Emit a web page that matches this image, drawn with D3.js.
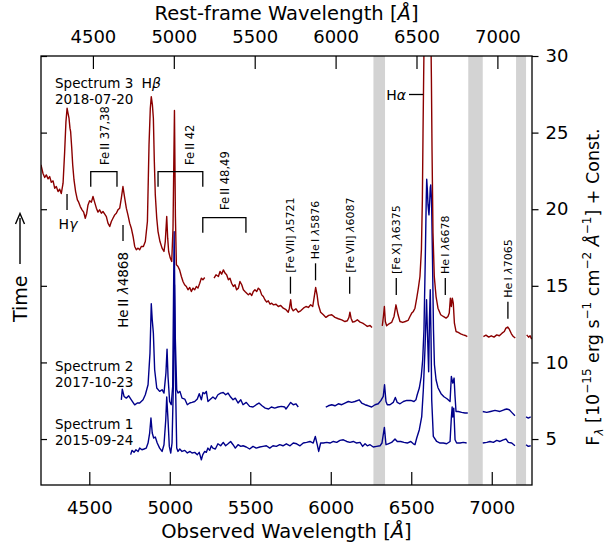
<!DOCTYPE html>
<html>
<head>
<meta charset="utf-8">
<script src="https://cdn.jsdelivr.net/npm/d3@7"></script>
<style>
  body { margin: 0; background: #fff; }
  svg text { font-family: "DejaVu Sans", sans-serif; fill: #000; }
</style>
</head>
<body>
<svg id="chart" width="616" height="546"></svg>
<script>
// ---- data -------------------------------------------------------------
const redshift = 0.005;
const obsTicks = [4500, 5000, 5500, 6000, 6500, 7000];
const restTicks = [4500, 5000, 5500, 6000, 6500, 7000];
const fluxTicks = [5, 10, 15, 20, 25, 30];
const telluricLo = [6265, 6854, 7151];
const telluricHi = [6337, 6944, 7213];

// Spectrum 3 (2018-07-20), null marks a masked stretch
const spec3Wave = [4200,4212,4223,4233,4244,4254,4264,4275,4285,4295,4306,4316,4326,4337,4347,4355,4362,4368,4374,4380,4384,4391,4397,4405,4415,4426,4434,4444,4455,4465,4475,4484,4492,4502,4513,4523,4533,4544,4554,4564,4575,4585,4596,4606,4616,4627,4637,4647,4658,4668,4678,4689,4699,4709,4720,4730,4740,4751,4761,4772,4782,4792,4803,4813,4823,4836,4848,4861,4871,4879,4885,4892,4898,4904,4910,4919,4927,4939,4952,4964,4972,4981,4987,4993,5003,5012,5020,5029,5035,5041,5051,5061,5072,5082,5092,5103,5113,5124,5134,5144,5155,5165,5175,5186,5196,5206,5217,5245,
  5275,5287,5302,5312,5322,5333,5343,5353,5364,5374,5384,5395,5405,5415,5426,5436,5447,5457,5467,5478,5488,5498,5509,5519,5529,5540,5550,5560,5571,5581,5591,5602,5612,5623,5633,5643,5660,5674,5689,5705,5722,5736,5743,5751,5757,5767,5784,5798,5813,5830,5846,5861,5875,5888,5896,5906,5915,5923,5937,5954,5970,5987,6006,6026,6047,6068,6088,6103,6113,6119,6126,6136,6150,6165,6182,6198,6213,6227,6244,6256,6290,
  6320,6327,6333,6339,6347,6362,6378,6393,6405,6418,6430,6447,6463,6480,6492,6503,6513,6523,6534,6544,6554,6563,6569,6573,6577,6601,6625,6629,6635,6643,6654,6666,6683,6699,6716,6728,6736,6743,6749,6755,6761,6768,6778,6792,6807,6823,6840,6848,6900,
  6948,6964,6981,6997,7014,7031,7047,7064,7078,7088,7099,7109,7122,7134,7146,7180,
  7217,7229,7238,7248];
const spec3Flux = [22.9,22.35,22.07,22.24,21.98,22.13,21.76,21.85,21.37,21.48,21.15,21.31,21.02,21.70,23.76,25.72,26.59,26.26,25.94,25.29,25.07,23.98,22.89,21.91,21.15,20.61,20.46,20.17,19.96,19.81,19.41,19.74,20.28,20.55,20.46,20.83,20.46,20.07,19.81,19.96,19.74,19.85,19.68,19.52,19.09,18.87,19.20,19.41,19.63,19.74,19.96,20.07,20.72,21.48,20.72,20.07,19.63,19.09,18.76,18.22,17.57,17.35,17.46,17.35,17.57,17.57,17.89,19.20,24.20,26.59,27.35,26.81,25.94,23.11,20.94,19.41,18.54,17.89,17.46,17.24,17.89,19.52,18.11,17.24,16.81,16.59,18.76,26.45,19.50,16.37,16.26,16.04,15.61,15.28,15.07,14.96,14.74,14.89,14.63,14.85,14.74,14.96,14.85,15.17,15.50,15.39,15.54,null,
  15.50,15.72,15.61,15.94,15.76,16.04,15.83,15.72,15.39,15.50,15.17,14.96,15.07,14.74,14.85,15.28,15.07,14.74,14.63,14.52,14.41,14.52,14.37,14.63,14.74,14.63,14.85,14.74,14.41,14.30,14.09,13.94,14.02,13.80,13.87,13.76,13.80,13.65,13.72,13.54,13.44,13.28,13.54,14.09,13.54,13.37,13.50,13.28,13.37,13.54,13.65,13.59,13.76,13.65,14.20,14.89,14.41,13.76,13.28,13.11,12.94,13.07,13.11,12.94,12.85,12.78,12.67,12.72,12.94,13.28,12.89,12.63,12.67,12.78,12.63,12.57,12.46,12.35,12.41,12.28,null,
  12.39,13.00,13.65,12.67,12.39,12.52,12.61,13.00,13.76,13.11,12.67,12.61,12.67,12.74,13.00,13.22,13.33,13.54,14.20,14.85,15.61,17.35,20.61,24.96,28.65,50.0,28.65,23.87,18.44,15.61,14.30,13.54,13.11,13.00,12.89,13.00,13.22,14.20,13.65,14.20,13.87,12.56,12.02,11.96,11.87,11.80,11.74,11.69,null,
  11.69,11.78,11.65,11.74,11.65,11.80,11.74,11.91,12.02,12.24,12.31,12.17,11.87,11.69,11.59,null,
  11.80,11.65,11.74,11.52];

// Spectrum 2 (2017-10-23)
const spec2Wave = [4699,4705,4716,4730,4745,4761,4782,4798,4813,4834,4848,4865,4877,4885,4891,4898,4906,4919,4937,4952,4964,4976,4983,4989,4999,5009,5018,5027,5034,5043,5051,5063,5076,5093,5109,5124,5138,5155,5171,5183,5196,5206,5217,5227,5237,5254,5268,5283,5299,5316,5332,5347,5362,5378,5393,5407,5424,5441,5455,5475,5496,5517,5537,5554,5573,5593,5614,5631,5652,5672,5693,5714,5722,5736,5751,5767,5784,5798,5880,
  5969,5985,6006,6026,6047,6068,6088,6109,6130,6150,6177,6192,6213,6233,6254,6275,6295,6312,6326,6334,6343,6351,6368,6388,6401,6413,6430,6451,6472,6497,6517,6529,6537,6550,6562,6571,6579,6587,6593,6596,6600,6604,6610,6615,6618,6621,6626,6632,6638,6644,6654,6666,6685,6703,6722,6741,6749,6758,6766,6772,6778,6792,6813,6834,6851,6900,
  6944,6969,6993,7020,7051,7076,7093,7109,7124,7144,7180,
  7213,7227,7242];
const spec2Flux = [7.56,8.26,7.78,7.67,7.82,7.56,7.23,7.35,7.35,7.56,7.89,8.54,10.61,13.83,12.78,11.91,9.52,8.33,8.11,8.22,8.00,9.31,10.87,9.08,7.45,7.24,8.43,18.54,11.69,8.22,8.00,8.11,7.67,7.61,7.24,7.35,7.39,7.45,7.61,7.96,7.56,8.04,7.96,8.11,7.45,7.61,7.74,7.61,7.89,8.00,8.04,7.89,8.00,7.74,7.56,7.67,7.35,7.56,7.24,7.39,7.13,7.09,7.24,7.35,7.17,7.02,6.96,7.09,7.02,7.09,7.13,7.09,6.96,7.17,7.39,7.24,7.30,7.09,null,
  7.09,7.17,7.24,7.17,7.30,7.24,7.35,7.45,7.39,7.45,7.56,7.35,7.24,7.17,7.09,7.24,7.30,7.52,7.78,8.54,7.45,7.24,7.24,7.39,7.71,7.39,7.30,7.45,7.52,7.52,7.45,7.56,7.89,8.33,9.08,10.17,12.13,16.70,20.61,21.96,21.26,20.28,19.63,20.61,21.39,21.59,20.61,16.70,12.13,9.85,8.87,8.35,7.96,7.76,7.63,7.45,9.08,8.65,8.98,7.78,6.80,6.80,6.74,6.70,6.70,null,
  6.80,6.74,6.80,6.87,6.80,6.91,6.96,6.91,6.74,6.52,null,
  6.44,6.37,6.44];

// Spectrum 1 (2015-09-24)
const spec1Wave = [4757,4765,4778,4790,4803,4813,4827,4840,4854,4865,4875,4883,4891,4900,4910,4922,4937,4952,4964,4975,4981,4989,4997,5006,5014,5022,5029,5036,5043,5051,5062,5076,5093,5109,5126,5138,5155,5171,5183,5196,5205,5217,5227,5237,5248,5258,5268,5283,5299,5316,5332,5347,5362,5378,5393,5407,5424,5441,5455,5475,5496,5517,5537,5559,5579,5600,5621,5641,5662,5683,5703,5724,5747,5767,5788,5809,5829,5850,5871,5891,5904,5916,5925,5937,5954,5975,5995,6016,6037,6057,6078,6099,6119,6140,6161,6182,6198,6213,6227,6244,6264,6285,6306,6318,6333,6343,6357,6378,6399,6413,6434,6455,6475,6497,6513,6523,6534,6550,6565,6575,6585,6595,6600,6608,6613,6618,6623,6627,6637,6658,6679,6699,6720,6741,6749,6754,6758,6764,6772,6782,6803,6823,6844,6900,
  6944,6969,6989,7010,7031,7051,7072,7089,7103,7124,7144,7180,
  7213,7227,7242];
const spec1Flux = [3.98,4.26,4.13,4.30,4.19,4.41,4.30,4.35,4.41,4.74,5.39,6.37,5.39,5.07,5.13,4.74,4.41,4.19,4.63,6.26,7.74,6.26,4.52,4.09,4.74,8.43,15.07,8.43,4.41,4.19,4.35,4.19,4.26,4.09,4.19,4.09,4.13,3.98,4.13,3.65,3.98,4.19,4.13,4.41,4.26,4.56,4.41,4.35,4.69,4.56,4.78,4.56,4.69,4.84,4.63,4.41,4.63,4.52,4.56,4.48,4.35,4.52,4.41,4.48,4.52,4.56,4.41,4.56,4.52,4.63,4.56,4.69,4.56,4.74,4.69,4.56,4.74,4.78,4.84,4.74,5.17,4.63,4.19,4.74,4.74,4.78,4.74,4.84,4.78,4.91,4.95,4.84,4.78,4.84,4.74,4.78,4.52,4.69,4.56,4.63,4.48,4.52,4.56,4.74,5.76,4.63,4.69,4.78,5.00,4.84,4.84,4.78,4.74,4.84,4.69,4.63,5.07,5.61,6.47,8.22,10.83,14.09,12.13,9.39,12.78,14.74,11.48,7.56,5.17,4.84,4.74,4.74,4.69,4.84,6.39,7.09,6.44,7.02,4.95,4.74,4.74,4.78,4.74,null,
  4.74,4.78,4.84,4.78,4.91,4.84,4.95,5.00,4.78,4.74,4.56,null,
  4.63,4.52,4.56];

// line identifications
const markerNames = ["[Fe\u2009VII] ", "He\u2009I ", "[Fe\u2009VII] ", "[Fe\u2009X] ", "He\u2009I ", "He\u2009I "];
const markerLambda = ["5721", "5876", "6087", "6375", "6678", "7065"];
const markerRest = [5721, 5876, 6087, 6375, 6678, 7065];
const feNames = ["Fe\u2009II 37,38", "Fe\u2009II 42", "Fe\u2009II 48,49"];
const feLo = [4509, 4927, 5205];
const feHi = [4672, 5205, 5473];

// ---- layout -----------------------------------------------------------
const svg = d3.select("#chart");
const L = 41, R = 532, T = 56, B = 485;

const x = d3.scaleLinear().domain([4200, 7250]).range([L, R]);
const xRest = d3.scaleLinear().domain([4200 / (1 + redshift), 7250 / (1 + redshift)]).range([L, R]);
const y = d3.scaleLinear().domain([2, 30]).range([B, T]);

svg.append("defs").append("clipPath").attr("id", "plotclip")
  .append("rect").attr("x", L).attr("y", T).attr("width", R - L).attr("height", B - T);

// telluric bands
svg.append("g").selectAll("rect").data(d3.range(telluricLo.length)).join("rect")
  .attr("x", i => x(telluricLo[i]))
  .attr("width", i => x(telluricHi[i]) - x(telluricLo[i]))
  .attr("y", T).attr("height", B - T)
  .attr("fill", "#d3d3d3");

// spectra
const series = [
  {wave: spec1Wave, flux: spec1Flux, color: "#00008b"},
  {wave: spec2Wave, flux: spec2Flux, color: "#00008b"},
  {wave: spec3Wave, flux: spec3Flux, color: "#8b0000"}
];
const line = d3.line()
  .defined(d => d[1] !== null)
  .x(d => x(d[0])).y(d => y(d[1]));
const plot = svg.append("g").attr("clip-path", "url(#plotclip)");
series.forEach(s => {
  plot.append("path")
    .datum(s.wave.map((w, i) => [w, s.flux[i]]))
    .attr("d", line)
    .attr("fill", "none")
    .attr("stroke", s.color)
    .attr("stroke-width", 1.4)
    .attr("stroke-linejoin", "round");
});

// axes
function styleAxis(g, size) {
  g.select(".domain").remove();
  g.selectAll(".tick line").attr("stroke", "#000").attr("stroke-width", 1.2);
  g.selectAll(".tick text").attr("font-family", "DejaVu Sans").attr("font-size", size).attr("fill", "#000");
  g.attr("font-family", null).attr("font-size", null);
}
svg.append("g").attr("transform", `translate(0,${B})`)
  .call(d3.axisBottom(x).tickValues(obsTicks).tickSize(-13).tickPadding(16).tickFormat(d3.format("d")))
  .call(g => styleAxis(g, 18));
svg.append("g").attr("transform", `translate(0,${T})`)
  .call(d3.axisTop(xRest).tickValues(restTicks).tickSize(-13).tickPadding(13).tickFormat(d3.format("d")))
  .call(g => styleAxis(g, 18));
svg.append("g").attr("transform", `translate(${L},0)`)
  .call(d3.axisLeft(y).tickValues(fluxTicks).tickSize(-6).tickFormat(""))
  .call(g => styleAxis(g, 18));
svg.append("g").attr("transform", `translate(${R},0)`)
  .call(d3.axisRight(y).tickValues(fluxTicks).tickSize(6.5).tickPadding(7).tickFormat(d3.format("d")))
  .call(g => styleAxis(g, 18));

svg.append("rect").attr("x", L).attr("y", T).attr("width", R - L).attr("height", B - T)
  .attr("fill", "none").attr("stroke", "#000").attr("stroke-width", 1.3);

// axis titles
function wavTitle(txt, yy) {
  const t = svg.append("text").attr("x", (L + R) / 2).attr("y", yy)
    .attr("text-anchor", "middle").attr("font-size", 19.5);
  t.append("tspan").text(txt + " [");
  t.append("tspan").attr("font-style", "italic").text("Å");
  t.append("tspan").text("]");
}
wavTitle("Observed Wavelength", 538);
wavTitle("Rest-frame Wavelength", 20);

// "Time" with a long upward arrow
svg.append("text").attr("transform", "translate(20,322) rotate(-90)")
  .attr("text-anchor", "start").attr("dy", "0.35em").attr("font-size", 19)
  .text("Time");
svg.append("line").attr("x1", 20).attr("x2", 20).attr("y1", 264).attr("y2", 218)
  .attr("stroke", "#000").attr("stroke-width", 1.4);
svg.append("path").attr("d", "M15.5,224 L20,213.5 L24.5,224")
  .attr("fill", "none").attr("stroke", "#000").attr("stroke-width", 1.4);

const yl = svg.append("text").attr("transform", "translate(593,287) rotate(-90)")
  .attr("text-anchor", "middle").attr("dy", "0.35em").attr("font-size", 17.5);
yl.append("tspan").text("F");
yl.append("tspan").attr("font-size", 12).attr("font-style", "italic").attr("dy", 4).text("λ");
yl.append("tspan").attr("dy", -4).text(" [10");
yl.append("tspan").attr("font-size", 12).attr("dy", -8).text("−15");
yl.append("tspan").attr("dy", 8).text(" erg s");
yl.append("tspan").attr("font-size", 12).attr("dy", -8).text("−1");
yl.append("tspan").attr("dy", 8).text(" cm");
yl.append("tspan").attr("font-size", 12).attr("dy", -8).text("−2");
yl.append("tspan").attr("dy", 8).attr("font-style", "italic").text(" Å");
yl.append("tspan").attr("font-size", 12).attr("dy", -8).text("−1");
yl.append("tspan").attr("dy", 8).text("] + Const.");

// ---- annotations --------------------------------------------------------
const ann = svg.append("g");
function stacked(xx, y1, a, b) {
  ann.append("text").attr("x", xx).attr("y", y1).attr("font-size", 13.5).text(a);
  ann.append("text").attr("x", xx).attr("y", y1 + 16).attr("font-size", 13.5).text(b);
}
stacked(55, 87.5, "Spectrum 3", "2018-07-20");
stacked(55, 371, "Spectrum 2", "2017-10-23");
stacked(55, 428.5, "Spectrum 1", "2015-09-24");

function greek(xx, yy, letter, anchor) {
  const t = ann.append("text").attr("x", xx).attr("y", yy).attr("font-size", 14)
    .attr("text-anchor", anchor);
  t.append("tspan").text("H");
  t.append("tspan").attr("font-style", "italic").text(letter);
  return t;
}
function seg(x1, y1, x2, y2) {
  ann.append("line").attr("x1", x1).attr("y1", y1).attr("x2", x2).attr("y2", y2)
    .attr("stroke", "#000").attr("stroke-width", 1.3);
}

// Hbeta, Hgamma, Halpha
greek(x(4861 * (1 + redshift)), 87.5, "β", "middle");
const xHg = x(4340 * (1 + redshift));
seg(xHg, 194, xHg, 210);
greek(xHg + 1, 228.5, "γ", "middle");
const xHa = x(6563 * (1 + redshift));
seg(409, 94.5, xHa - 3.5, 94.5);
greek(406, 99.5, "α", "end");

// He II marker
const xHe2 = x(4686 * (1 + redshift));
seg(xHe2, 225, xHe2, 241);
const he2 = ann.append("text").attr("transform", `translate(${xHe2},252) rotate(-90)`)
  .attr("text-anchor", "end").attr("dy", "0.35em").attr("font-size", 13.5);
he2.append("tspan").text("He\u2009II ");
he2.append("tspan").attr("font-style", "italic").text("λ");
he2.append("tspan").text("4868");

// Fe II blends
const feBarY = [171.7, 171.7, 217.7];
const feTextX = [104.7, 189.7, 225];
const feTextY = [165, 165, 210];
feNames.forEach((name, i) => {
  const x1 = x(feLo[i]), x2 = x(feHi[i]), yy = feBarY[i];
  ann.append("path")
    .attr("d", `M${x1},${yy + 15}V${yy}H${x2}V${yy + 15}`)
    .attr("fill", "none").attr("stroke", "#000").attr("stroke-width", 1.3);
  ann.append("text").attr("transform", `translate(${feTextX[i]},${feTextY[i]}) rotate(-90)`)
    .attr("dy", "0.35em").attr("font-size", 11.5).text(name);
});

// narrow / coronal line markers
const markTop = [276.7, 263.3, 276.7, 278, 278, 301.7];
markerRest.forEach((r, i) => {
  const xx = x(r * (1 + redshift));
  seg(xx, markTop[i], xx, markTop[i] + 17);
  const t = ann.append("text").attr("transform", `translate(${xx},${markTop[i] - 4}) rotate(-90)`)
    .attr("dy", "0.35em").attr("font-size", 11);
  t.append("tspan").text(markerNames[i]);
  t.append("tspan").attr("font-style", "italic").text("λ");
  t.append("tspan").text(markerLambda[i]);
});
</script>
</body>
</html>
